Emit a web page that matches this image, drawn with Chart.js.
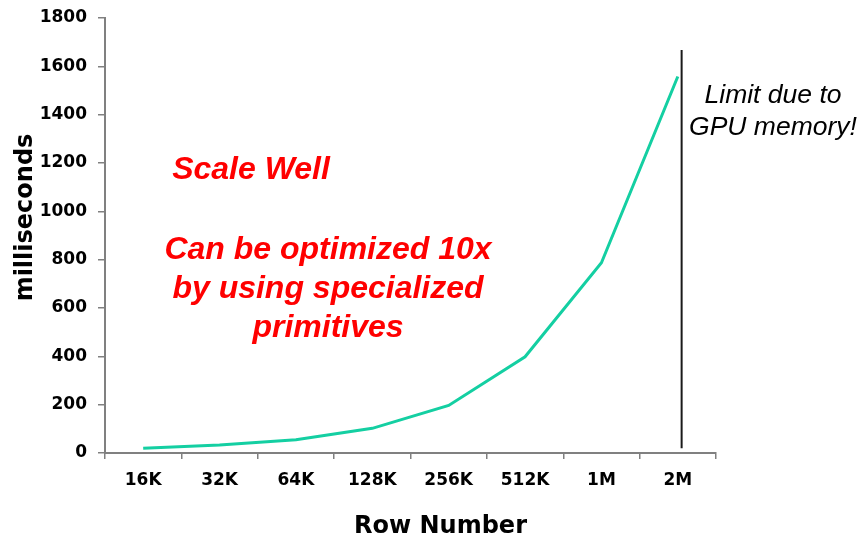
<!DOCTYPE html>
<html>
<head>
<meta charset="utf-8">
<script src="https://cdn.jsdelivr.net/npm/chart.js@4/dist/chart.umd.min.js"></script>
<style>
  html, body { margin: 0; padding: 0; background: #ffffff; }
  #wrap { width: 863px; height: 541px; position: relative; }
</style>
</head>
<body>
<div id="wrap"><canvas id="c" width="863" height="541"></canvas></div>
<script>
// ---- data ----
const categories = ['16K', '32K', '64K', '128K', '256K', '512K', '1M', '2M'];
const milliseconds = [20, 33, 55, 102, 197, 398, 787, 1558];
const yTicks = [0, 200, 400, 600, 800, 1000, 1200, 1400, 1600, 1800];
const limitLineRange = [20, 1668];   // vertical "limit" marker, in ms
const limitLineIndex = 7.05;         // just right of the 2M point
const xTitle = 'Row Number';
const yTitle = 'milliseconds';
const noteScale = ['Scale Well'];
const noteOptimize = ['Can be optimized 10x', 'by using specialized', 'primitives'];
const noteLimit = ['Limit due to', 'GPU memory!'];

const annotationPlugin = {
  id: 'annotations',
  afterDatasetsDraw(chart) {
    const ctx = chart.ctx;
    const xs = chart.scales.x, ys = chart.scales.y;
    const ca = chart.chartArea;
    ctx.save();
    // limit line
    const lx = xs.getPixelForValue(limitLineIndex);
    ctx.strokeStyle = '#1a1a1a';
    ctx.lineWidth = 2;
    ctx.beginPath();
    ctx.moveTo(lx, ys.getPixelForValue(limitLineRange[1]));
    ctx.lineTo(lx, ys.getPixelForValue(limitLineRange[0]));
    ctx.stroke();

    ctx.textAlign = 'center';
    ctx.textBaseline = 'middle';
    // red notes
    ctx.fillStyle = '#ff0000';
    ctx.font = 'italic bold 32px "Liberation Sans", Arial, sans-serif';
    ctx.fillText(noteScale[0], 251, 170);
    noteOptimize.forEach((t, i) => ctx.fillText(t, 328, 250 + i * 39));
    // limit note
    ctx.fillStyle = '#000000';
    ctx.font = 'italic 26.5px "Liberation Sans", Arial, sans-serif';
    noteLimit.forEach((t, i) => ctx.fillText(t, 773, 96 + i * 32));

    // axis titles
    ctx.font = 'bold 24px "DejaVu Sans", Verdana, sans-serif';
    ctx.fillText(xTitle, (ca.left + ca.right) / 2 + 30, 527);
    ctx.save();
    ctx.translate(26, (ca.top + ca.bottom) / 2 - 18);
    ctx.rotate(-Math.PI / 2);
    ctx.fillText(yTitle, 0, 0);
    ctx.restore();
    ctx.restore();
  }
};

new Chart(document.getElementById('c'), {
  type: 'line',
  data: {
    labels: categories,
    datasets: [{
      label: 'ms',
      data: milliseconds,
      borderColor: '#14cfa2',
      borderWidth: 3,
      pointRadius: 0,
      tension: 0,
      fill: false
    }]
  },
  options: {
    responsive: false,
    animation: false,
    devicePixelRatio: 1,
    layout: { padding: { top: 18, right: 147, left: 0, bottom: 0 } },
    plugins: { legend: { display: false }, tooltip: { enabled: false } },
    scales: {
      x: {
        type: 'category',
        offset: true,
        grid: { offset: true, drawOnChartArea: false, tickLength: 6, color: '#808080', lineWidth: 1.5 },
        border: { color: '#808080', width: 2 },
        ticks: {
          color: '#000',
          padding: 11,
          maxRotation: 0,
          font: { family: '"DejaVu Sans", Verdana, sans-serif', size: 17, weight: 'bold' }
        },
        afterFit(s) { s.height = 88; }
      },
      y: {
        min: 0,
        max: 1800,
        afterBuildTicks(s) { s.ticks = yTicks.map(v => ({ value: v })); },
        grid: { drawOnChartArea: false, tickLength: 7, color: '#808080', lineWidth: 1.5 },
        border: { color: '#808080', width: 2 },
        ticks: {
          color: '#000',
          padding: 11,
          callback: (v) => String(v),
          font: { family: '"DejaVu Sans", Verdana, sans-serif', size: 17, weight: 'bold' }
        },
        afterFit(s) { s.width = 105; s.paddingTop = 0; s.paddingBottom = 0; }
      }
    }
  },
  plugins: [annotationPlugin]
});
</script>
</body>
</html>
